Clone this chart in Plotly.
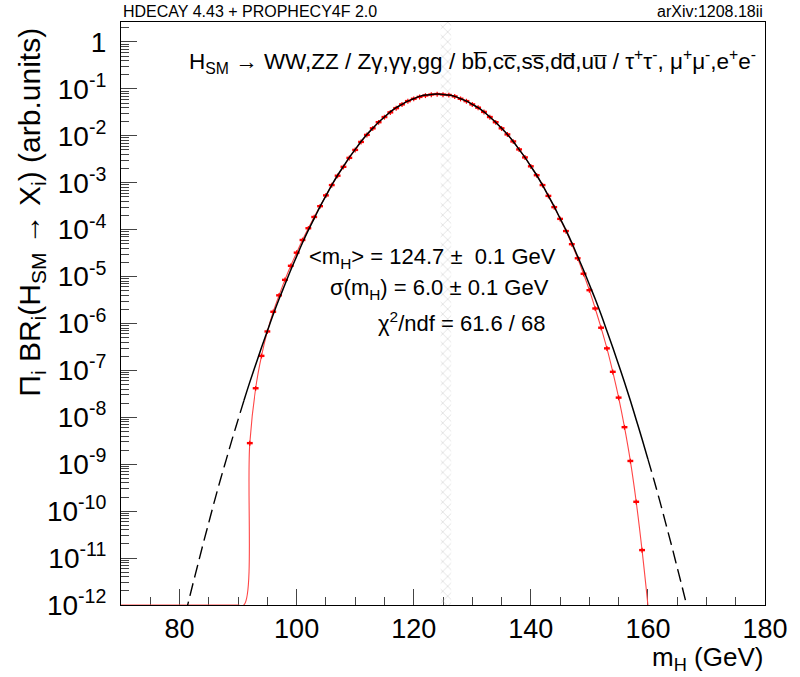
import numpy as np
import plotly.graph_objects as go

# ---------------- data ----------------
# Gaussian fit curve (black), log10 of the value at 1 GeV steps
fit_mass = list(range(81, 168))
fit_log10 = [
    -12.20, -11.69, -11.20, -10.71, -10.24, -9.77, -9.32, -8.89, -8.46, -8.05,
    -7.64, -7.25, -6.88, -6.51, -6.16, -5.81, -5.48, -5.17, -4.86, -4.57,
    -4.28, -4.01, -3.76, -3.51, -3.28, -3.05, -2.84, -2.65, -2.46, -2.29,
    -2.12, -1.97, -1.84, -1.71, -1.60, -1.49, -1.40, -1.33, -1.26, -1.21,
    -1.16, -1.13, -1.12, -1.11, -1.12, -1.13, -1.16, -1.21, -1.26, -1.33,
    -1.40, -1.49, -1.60, -1.71, -1.84, -1.97, -2.12, -2.29, -2.46, -2.65,
    -2.84, -3.05, -3.28, -3.51, -3.76, -4.01, -4.28, -4.57, -4.86, -5.17,
    -5.48, -5.81, -6.16, -6.51, -6.88, -7.25, -7.64, -8.05, -8.46, -8.89,
    -9.32, -9.77, -10.24, -10.71, -11.20, -11.69, -12.20,
]
fit_lo, fit_hi = 91, 160          # fitted range (solid), dashed outside

# Histogram (red points), log10 of the bin content, 1 GeV bins
data_mass = list(range(92, 160))
data_log10 = [
    -8.55, -7.38, -6.69, -6.17, -5.75, -5.40, -5.07, -4.77, -4.49, -4.22,
    -3.97, -3.73, -3.50, -3.27, -3.05, -2.85, -2.66, -2.47, -2.30, -2.13,
    -1.98, -1.84, -1.71, -1.60, -1.50, -1.41, -1.33, -1.26, -1.21, -1.17,
    -1.14, -1.12, -1.11, -1.12, -1.13, -1.16, -1.21, -1.26, -1.33, -1.40,
    -1.49, -1.60, -1.71, -1.84, -1.97, -2.12, -2.29, -2.46, -2.65, -2.84,
    -3.05, -3.28, -3.52, -3.77, -4.03, -4.31, -4.61, -4.94, -5.29, -5.68,
    -6.09, -6.53, -7.03, -7.58, -8.21, -8.93, -9.80, -10.83,
]
data_rel_err_pct = 12
bin_half_width = 0.5
hist_lo, hist_hi = 70, 160        # histogram range (empty bins elsewhere)

band_lo, band_hi = 124.6, 126.4   # hatched mass band

x_range = [70, 180]
y_log_range = [-12, 0.426]
x_ticks = [80, 100, 120, 140, 160, 180]
y_tick_exps = list(range(-12, 1))

# ---------------- figure ----------------
ymin, ymax = 10 ** y_log_range[0], 10 ** y_log_range[1]
fit_x = np.array(fit_mass, dtype=float)
fit_y = 10 ** np.array(fit_log10)
data_y = 10 ** np.array(data_log10)

lookup = dict(zip(data_mass, data_y))
hist_x = np.arange(hist_lo, hist_hi + 1)
hist_y = np.array([lookup.get(int(m), ymin) for m in hist_x])

FONT = "Liberation Sans, Arial, Helvetica, sans-serif"
NARROW = "Liberation Sans Narrow, " + FONT
RED = "rgb(255,0,0)"

fig = go.Figure()

# hatched band
fig.add_trace(go.Scatter(
    x=[band_lo, band_hi, band_hi, band_lo, band_lo],
    y=[ymin, ymin, ymax, ymax, ymin],
    mode="lines", line=dict(width=0), fill="toself",
    fillcolor="rgba(0,0,0,0)",
    fillpattern=dict(shape="x", fgcolor="#bdbdbd", bgcolor="rgba(255,255,255,0)",
                     size=7, solidity=0.22),
    hoverinfo="skip"))

# red smooth line through histogram
fig.add_trace(go.Scatter(
    x=hist_x, y=hist_y, mode="lines",
    line=dict(color="rgb(255,70,70)", width=1.1, shape="spline", smoothing=1.1),
    hoverinfo="skip"))

# red points with error bars
fig.add_trace(go.Scatter(
    x=data_mass, y=data_y, mode="markers",
    marker=dict(size=1, color=RED),
    error_x=dict(type="constant", value=bin_half_width, color=RED, thickness=2.4, width=0),
    error_y=dict(type="percent", value=data_rel_err_pct, color=RED, thickness=1.2, width=0)))

# black fit: dashed outside fit range, solid inside
left = fit_x <= fit_lo
right = fit_x >= fit_hi
mid = (fit_x >= fit_lo) & (fit_x <= fit_hi)
for m in (left, right):
    fig.add_trace(go.Scatter(x=fit_x[m], y=fit_y[m], mode="lines",
                             line=dict(color="black", width=1.4, dash="13px,6px", shape="spline"),
                             hoverinfo="skip"))
fig.add_trace(go.Scatter(x=fit_x[mid], y=fit_y[mid], mode="lines",
                         line=dict(color="black", width=1.5, shape="spline"),
                         hoverinfo="skip"))

L, R, T, B = 121, 767, 22, 605
W, H = 800, 677


def px(x):
    return (x - L) / (R - L)


def py(y):
    return (B - y) / (B - T)


minor_y = [k * 10.0 ** e for e in range(-12, 1) for k in range(2, 10)]

fig.update_layout(
    width=W, height=H,
    margin=dict(l=L, r=W - R, t=T, b=H - B, pad=0),
    paper_bgcolor="white", plot_bgcolor="white",
    showlegend=False,
    font=dict(family=FONT, color="black"),
    xaxis=dict(range=x_range, tickmode="array", tickvals=x_ticks,
               ticks="inside", ticklen=16, tickwidth=1, tickcolor="#444",
               showline=True, linecolor="black", linewidth=1, mirror=True,
               showgrid=False, zeroline=False, layer="below traces",
               tickfont=dict(size=27, family=FONT), ticklabelstandoff=0,
               minor=dict(ticks="inside", ticklen=8, dtick=5, tick0=0,
                          tickcolor="#444", showgrid=False)),
    yaxis=dict(type="log", range=y_log_range, tickmode="array",
               tickvals=[10.0 ** e for e in y_tick_exps],
               ticktext=["1" if e == 0 else "10<sup>%d</sup>" % e for e in y_tick_exps],
               ticks="inside", ticklen=16, tickwidth=1, tickcolor="#444",
               showline=True, linecolor="black", linewidth=1, mirror=True,
               showgrid=False, zeroline=False,
               tickfont=dict(size=28, family=FONT), ticklabelstandoff=8,
               minor=dict(ticks="inside", ticklen=8, tickmode="array",
                          tickvals=minor_y, tickcolor="#444", showgrid=False)),
)

ann = []
ann.append(dict(text="HDECAY 4.43 + PROPHECY4F 2.0", x=px(121), y=py(12),
                xanchor="left", yanchor="middle", font=dict(size=16, family=NARROW)))
ann.append(dict(text="arXiv:1208.18ii", x=px(767), y=py(12),
                xanchor="right", yanchor="middle", font=dict(size=16, family=NARROW)))
ann.append(dict(
    text="H<sub>SM</sub> → WW,ZZ / Zγ,γγ,gg / bb\u0305,cc\u0305,ss\u0305,dd\u0305,uu\u0305 / "
         "τ<sup>+</sup>τ<sup>-</sup>, μ<sup>+</sup>μ<sup>-</sup>,e<sup>+</sup>e<sup>-</sup>",
    x=px(474), y=py(62), xanchor="center", yanchor="middle",
    font=dict(size=22.5)))
ann.append(dict(text="&lt;m<sub>H</sub>&gt; = 124.7 ±  0.1 GeV", x=px(433), y=py(258),
                xanchor="center", yanchor="middle", font=dict(size=22)))
ann.append(dict(text="σ(m<sub>H</sub>) = 6.0 ± 0.1 GeV", x=px(440), y=py(289),
                xanchor="center", yanchor="middle", font=dict(size=22)))
ann.append(dict(text="χ<sup>2</sup>/ndf = 61.6 / 68", x=px(463), y=py(322),
                xanchor="center", yanchor="middle", font=dict(size=22)))
ann.append(dict(
    text="Π<sub>i</sub> BR<sub>i</sub>(H<sub>SM</sub> → X<sub>i</sub>) (arb.units)",
    x=px(31), y=py(26), xanchor="center", yanchor="top", textangle=-90,
    font=dict(size=30)))
ann.append(dict(text="m<sub>H</sub> (GeV)", x=px(767), y=py(677),
                xanchor="right", yanchor="bottom", font=dict(size=26)))

for a in ann:
    a.update(xref="paper", yref="paper", showarrow=False)
fig.update_layout(annotations=ann)

fig.write_html("out.html", post_script="document.body.style.margin='0px';",
               config={"displayModeBar": False})
